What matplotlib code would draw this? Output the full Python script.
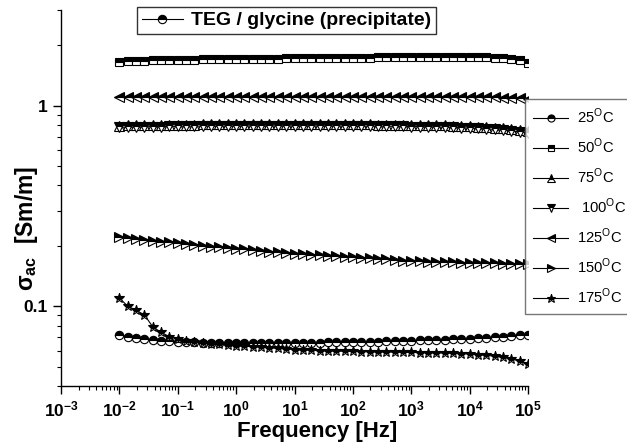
import numpy as np
import matplotlib
matplotlib.use("Agg")
import matplotlib.pyplot as plt
from matplotlib.lines import Line2D
from matplotlib.ticker import LogLocator, FuncFormatter, NullFormatter, LogFormatterSciNotation

plt.rcParams['font.family'] = ['Liberation Sans', 'DejaVu Sans']

# frequency sweep: 7 points per decade, 10 mHz .. 100 kHz
freq = np.logspace(-2, 5, 50)

sig_25 = [0.0720, 0.0705, 0.0695, 0.0688, 0.0680, 0.0674, 0.0668,
          0.0664, 0.0662, 0.0660, 0.0659, 0.0658, 0.0657, 0.0657,
          0.0656, 0.0656, 0.0656, 0.0656, 0.0657, 0.0657, 0.0657,
          0.0658, 0.0658, 0.0659, 0.0659, 0.0660, 0.0661, 0.0662,
          0.0663, 0.0664, 0.0665, 0.0666, 0.0668, 0.0669, 0.0671,
          0.0673, 0.0675, 0.0677, 0.0679, 0.0681, 0.0683, 0.0686,
          0.0689, 0.0693, 0.0697, 0.0701, 0.0705, 0.0710, 0.0715, 0.0721]

sig_50 = [1.660, 1.665, 1.670, 1.675, 1.680, 1.684, 1.688,
          1.691, 1.694, 1.697, 1.700, 1.702, 1.704, 1.706,
          1.708, 1.710, 1.712, 1.714, 1.716, 1.718, 1.720,
          1.722, 1.724, 1.726, 1.728, 1.730, 1.732, 1.734,
          1.736, 1.737, 1.738, 1.739, 1.740, 1.741, 1.742,
          1.743, 1.744, 1.744, 1.745, 1.745, 1.745, 1.744,
          1.743, 1.742, 1.740, 1.736, 1.728, 1.712, 1.680, 1.625]

sig_75 = [0.795, 0.797, 0.799, 0.800, 0.801, 0.802, 0.803,
          0.804, 0.805, 0.805, 0.806, 0.806, 0.807, 0.807,
          0.807, 0.808, 0.808, 0.808, 0.808, 0.808, 0.808,
          0.808, 0.808, 0.808, 0.808, 0.808, 0.807, 0.807,
          0.807, 0.806, 0.806, 0.805, 0.805, 0.804, 0.803,
          0.802, 0.801, 0.800, 0.799, 0.797, 0.795, 0.793,
          0.790, 0.787, 0.783, 0.778, 0.772, 0.765, 0.757, 0.748]

sig_100 = [0.780, 0.782, 0.784, 0.785, 0.786, 0.787, 0.788,
           0.789, 0.790, 0.790, 0.791, 0.791, 0.792, 0.792,
           0.792, 0.793, 0.793, 0.793, 0.793, 0.793, 0.793,
           0.793, 0.793, 0.793, 0.793, 0.793, 0.792, 0.792,
           0.792, 0.791, 0.791, 0.790, 0.790, 0.789, 0.788,
           0.787, 0.786, 0.785, 0.783, 0.781, 0.779, 0.776,
           0.773, 0.770, 0.766, 0.761, 0.755, 0.748, 0.740, 0.730]

sig_125 = [1.100, 1.101, 1.102, 1.103, 1.104, 1.105, 1.105,
           1.106, 1.106, 1.107, 1.107, 1.108, 1.108, 1.108,
           1.109, 1.109, 1.109, 1.110, 1.110, 1.110, 1.110,
           1.111, 1.111, 1.111, 1.111, 1.111, 1.111, 1.111,
           1.111, 1.111, 1.111, 1.111, 1.110, 1.110, 1.110,
           1.109, 1.109, 1.108, 1.108, 1.107, 1.106, 1.105,
           1.104, 1.103, 1.101, 1.099, 1.097, 1.094, 1.090, 1.085]

sig_150 = [0.222, 0.219, 0.216, 0.214, 0.212, 0.210, 0.208,
           0.206, 0.204, 0.202, 0.200, 0.198, 0.197, 0.195,
           0.193, 0.192, 0.190, 0.189, 0.187, 0.186, 0.184,
           0.183, 0.182, 0.180, 0.179, 0.178, 0.177, 0.176,
           0.175, 0.174, 0.173, 0.172, 0.171, 0.170, 0.169,
           0.169, 0.168, 0.167, 0.167, 0.166, 0.166, 0.165,
           0.165, 0.164, 0.164, 0.164, 0.163, 0.163, 0.163, 0.162]

sig_175 = [0.110, 0.100, 0.0955, 0.0905, 0.0790, 0.0740, 0.0705,
           0.0685, 0.0672, 0.0663, 0.0656, 0.0650, 0.0645, 0.0640,
           0.0636, 0.0632, 0.0628, 0.0624, 0.0620, 0.0616, 0.0612,
           0.0608, 0.0605, 0.0602, 0.0600, 0.0598, 0.0597, 0.0596,
           0.0595, 0.0594, 0.0593, 0.0592, 0.0591, 0.0590, 0.0589,
           0.0588, 0.0587, 0.0586, 0.0585, 0.0584, 0.0582, 0.0580,
           0.0578, 0.0574, 0.0569, 0.0563, 0.0556, 0.0547, 0.0533, 0.0515]

labels = ["25$^\\mathregular{O}$C", "50$^\\mathregular{O}$C", "75$^\\mathregular{O}$C",
          " 100$^\\mathregular{O}$C", "125$^\\mathregular{O}$C", "150$^\\mathregular{O}$C",
          "175$^\\mathregular{O}$C"]
series = [sig_25, sig_50, sig_75, sig_100, sig_125, sig_150, sig_175]
markers = ["o", "s", "^", "v", "<", ">", "*"]
msizes = [6, 5.5, 7, 7, 7, 7, 7.5]

fig = plt.figure(figsize=(6.27, 4.46), dpi=100)
ax = fig.add_axes([61/627, 1 - 386/446, (528-61)/627, (386-10)/446])

for y, m, ms, lab in zip(series, markers, msizes, labels):
    ax.plot(freq, y, color="black", lw=0.8, marker=m, ms=ms, mew=0.8,
            fillstyle="top", mfc="black", mfcalt="white", mec="black",
            label=lab)

ax.set_xscale("log")
ax.set_yscale("log")

for side in ["top", "right"]:
    ax.spines[side].set_visible(False)
for side in ["left", "bottom"]:
    ax.spines[side].set_linewidth(1.0)

ax.set_xticks(10.0 ** np.arange(-3, 6))
ax.xaxis.set_major_formatter(LogFormatterSciNotation())
ax.xaxis.set_minor_locator(LogLocator(base=10, subs=np.arange(2, 10), numticks=20))
ax.xaxis.set_minor_formatter(NullFormatter())
ax.set_yticks([0.1, 1])
ax.yaxis.set_minor_locator(LogLocator(base=10, subs=np.arange(2, 10), numticks=20))
ax.yaxis.set_minor_formatter(NullFormatter())
ax.yaxis.set_major_formatter(FuncFormatter(lambda v, p: "%g" % v))
ax.set_xlim(1e-3, 1e5)
ax.set_ylim(0.04, 3.0)

ax.tick_params(which="major", direction="out", length=6, width=1.0, labelsize=12.5)
ax.tick_params(which="minor", direction="out", length=3, width=0.8)
for t in ax.get_xticklabels() + ax.get_yticklabels():
    t.set_fontweight("bold")

ax.set_xlabel("Frequency [Hz]", fontsize=16, fontweight="bold")
ax.xaxis.set_label_coords((317-61)/467, -0.092)
ax.set_ylabel("σ$_\\mathregular{ac}$  [Sm/m]", fontsize=16.5, fontweight="bold")
ax.yaxis.set_label_coords(-0.046, 0.42)

# sample legend at the top
sample = Line2D([], [], color="black", lw=0.8, marker="o", ms=6, mew=0.8,
                fillstyle="top", mfc="black", mfcalt="white", mec="black")
leg1 = fig.legend([sample], ["TEG / glycine (precipitate)"], loc="upper left",
                  bbox_to_anchor=(137/627, 1 - 7/446), frameon=True, fancybox=False,
                  prop={"weight": "bold", "size": 14}, handlelength=2.1,
                  handletextpad=0.45, borderpad=0.25, borderaxespad=0)
leg1.get_frame().set_edgecolor("black")
leg1.get_frame().set_linewidth(1.0)

leg2 = fig.legend(loc="upper left", bbox_to_anchor=(525/627, 1 - 99/446),
                  frameon=True, fancybox=False, fontsize=10.6, handlelength=2.4,
                  handletextpad=0.6, labelspacing=0.72, borderpad=0.55,
                  borderaxespad=0, markerscale=0.85)
leg2.get_frame().set_edgecolor("#555555")
leg2.get_frame().set_linewidth(1.0)

fig.savefig("out.png", dpi=100)
